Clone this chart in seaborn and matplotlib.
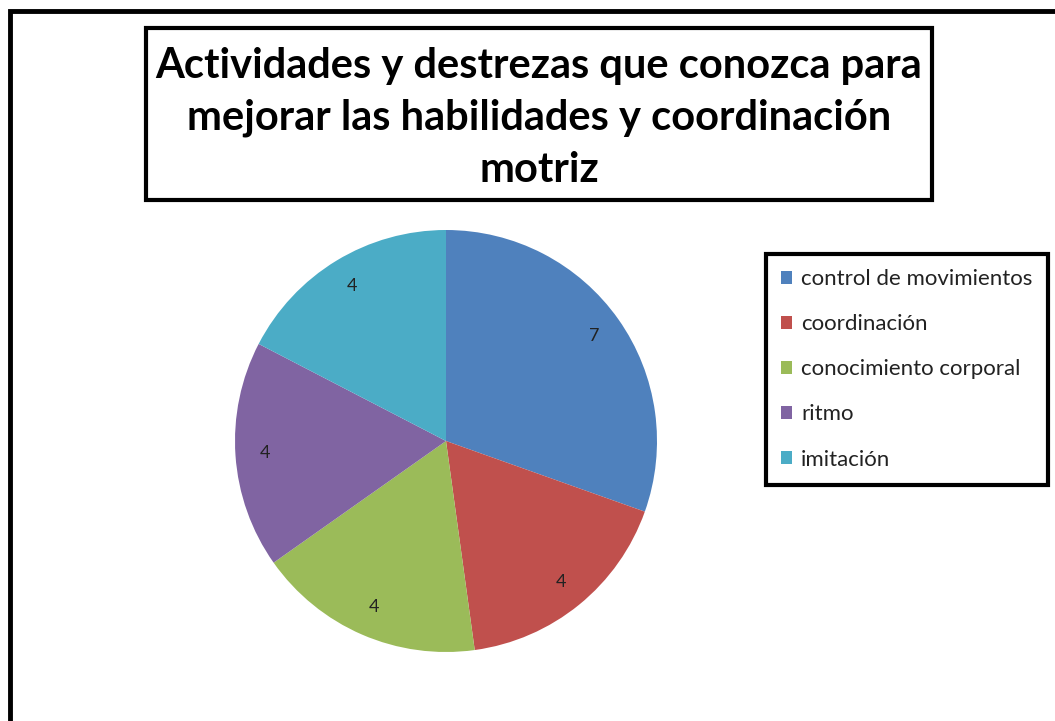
import matplotlib
matplotlib.use("Agg")
import matplotlib.pyplot as plt
import matplotlib.patches as patches
import seaborn as sns

# data
categorias = ["control de movimientos", "coordinación", "conocimiento corporal", "ritmo", "imitación"]
valores = [7, 4, 4, 4, 4]
colores = ["#4F81BD", "#C0504D", "#9BBB59", "#8064A2", "#4BACC6"]
titulo = "Actividades y destrezas que conozca para\nmejorar las habilidades y coordinación\nmotriz"

sns.set_theme(style="white")
plt.rcParams["font.family"] = ["Lato", "DejaVu Sans"]

W, H = 1055, 721
fig = plt.figure(figsize=(W / 100, H / 100), dpi=100)
fig.patch.set_facecolor("white")

def fx(px):
    return px / W

def fy(py):
    return 1 - py / H

# outer frame, cut off on the right and bottom
fig.patches.append(patches.Rectangle((fx(10), fy(800)), fx(1100), fy(11) - fy(800),
                                     transform=fig.transFigure, fill=False, edgecolor="black", linewidth=3.5))

# title box
fig.patches.append(patches.Rectangle((fx(146), fy(200)), fx(932) - fx(146), fy(28) - fy(200),
                                     transform=fig.transFigure, fill=False, edgecolor="black", linewidth=3))
fig.text(fx(539), fy(118), titulo, ha="center", va="center", fontsize=30, fontweight="bold",
         linespacing=1.45, color="black")

# pie
cx, cy, r = 446, 441, 211
ax = fig.add_axes([fx(cx - r), fy(cy + r), 2 * r / W, 2 * r / H])
wedges, texts, autotexts = ax.pie(valores, colors=colores, startangle=90, counterclock=False,
                                  autopct=lambda p: f"{p * sum(valores) / 100:.0f}", pctdistance=0.86,
                                  wedgeprops=dict(linewidth=0), textprops=dict(fontsize=13, color="#222222"))
ax.set_xlim(-1, 1)
ax.set_ylim(-1, 1)
ax.set_aspect("auto")
ax.axis("off")

# legend
leg = fig.legend(wedges, categorias, loc="upper left", bbox_to_anchor=(fx(766), fy(254)),
                 fontsize=16, frameon=True, fancybox=False, framealpha=1, handlelength=0.5, handleheight=0.5,
                 handletextpad=0.4, labelspacing=1.13, borderpad=0.68, borderaxespad=0)
leg.get_frame().set_edgecolor("black")
leg.get_frame().set_linewidth(3)
for t in leg.get_texts():
    t.set_color("#222222")

fig.savefig("out.png", dpi=100, facecolor="white")
